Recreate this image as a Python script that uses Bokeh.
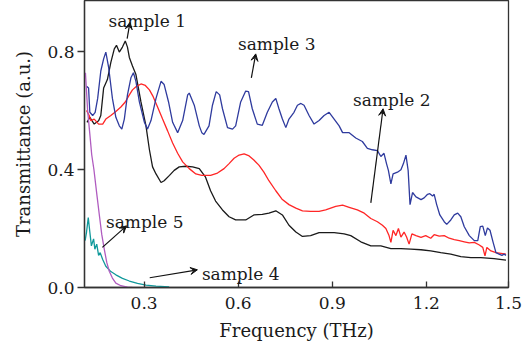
from bokeh.plotting import figure
from bokeh.models import Range1d, FixedTicker, PrintfTickFormatter, Arrow, VeeHead, Label
from bokeh.embed import file_html
from bokeh.resources import INLINE

FONT = "DejaVu Serif"

s1_x = [0.118, 0.127, 0.141, 0.155, 0.162, 0.171, 0.183, 0.194, 0.205, 0.212, 0.221, 0.231, 0.240,
        0.247, 0.253, 0.263, 0.274, 0.290, 0.306, 0.317, 0.327, 0.338, 0.354, 0.364, 0.381, 0.396,
        0.412, 0.433, 0.455, 0.476, 0.496, 0.512, 0.528, 0.550, 0.571, 0.592, 0.624, 0.650, 0.677,
        0.698, 0.720, 0.741, 0.762, 0.784, 0.805, 0.831, 0.858, 0.879, 0.906, 0.938, 0.959, 0.991,
        1.023, 1.055, 1.087, 1.119, 1.151, 1.183, 1.214, 1.246, 1.278, 1.310, 1.342, 1.374, 1.416, 1.454]
s1_y = [0.560, 0.577, 0.554, 0.565, 0.583, 0.676, 0.705, 0.763, 0.809, 0.821, 0.798, 0.815, 0.836,
        0.815, 0.780, 0.751, 0.722, 0.629, 0.548, 0.467, 0.409, 0.385, 0.356, 0.362, 0.380, 0.397,
        0.409, 0.411, 0.409, 0.403, 0.374, 0.328, 0.293, 0.263, 0.240, 0.229, 0.229, 0.246, 0.248,
        0.252, 0.260, 0.246, 0.211, 0.188, 0.173, 0.176, 0.186, 0.186, 0.186, 0.182, 0.176, 0.155,
        0.141, 0.141, 0.132, 0.132, 0.130, 0.128, 0.124, 0.118, 0.113, 0.105, 0.101, 0.101, 0.098, 0.093]

s2_x = [0.1165, 0.125, 0.130, 0.141, 0.155, 0.168, 0.178, 0.194, 0.210, 0.226, 0.240, 0.253, 0.263,
        0.276, 0.290, 0.304, 0.317, 0.329, 0.343, 0.359, 0.375, 0.391, 0.407, 0.423, 0.444, 0.465,
        0.484, 0.512, 0.534, 0.555, 0.571, 0.587, 0.603, 0.619, 0.635, 0.650, 0.666, 0.682, 0.698,
        0.720, 0.741, 0.762, 0.784, 0.805, 0.831, 0.858, 0.879, 0.911, 0.933, 0.954, 0.980, 1.002,
        1.023, 1.044, 1.060, 1.071, 1.081, 1.087, 1.094, 1.103, 1.111, 1.119, 1.129, 1.137, 1.145,
        1.154, 1.167, 1.183, 1.198, 1.214, 1.225, 1.241, 1.257, 1.273, 1.289, 1.305, 1.321, 1.337,
        1.353, 1.369, 1.380, 1.387, 1.393, 1.406, 1.422, 1.438, 1.454]
s2_y = [0.600, 0.583, 0.566, 0.571, 0.554, 0.554, 0.571, 0.583, 0.597, 0.612, 0.629, 0.653, 0.670,
        0.682, 0.690, 0.685, 0.670, 0.647, 0.612, 0.571, 0.531, 0.490, 0.455, 0.426, 0.403, 0.385,
        0.380, 0.380, 0.388, 0.403, 0.420, 0.438, 0.449, 0.453, 0.446, 0.432, 0.415, 0.391, 0.362,
        0.328, 0.298, 0.281, 0.269, 0.260, 0.258, 0.258, 0.263, 0.275, 0.279, 0.272, 0.263, 0.252,
        0.234, 0.223, 0.211, 0.200, 0.176, 0.153, 0.194, 0.176, 0.200, 0.171, 0.188, 0.171, 0.147,
        0.182, 0.176, 0.170, 0.176, 0.167, 0.179, 0.174, 0.176, 0.167, 0.162, 0.159, 0.155, 0.151,
        0.153, 0.144, 0.136, 0.107, 0.136, 0.124, 0.118, 0.116, 0.113]

s3_x = [0.1165, 0.123, 0.127, 0.136, 0.144, 0.152, 0.162, 0.171, 0.178, 0.187, 0.199, 0.210, 0.221,
        0.229, 0.237, 0.247, 0.258, 0.266, 0.274, 0.285, 0.301, 0.311, 0.322, 0.338, 0.354, 0.364,
        0.378, 0.391, 0.407, 0.423, 0.439, 0.444, 0.460, 0.476, 0.484, 0.491, 0.507, 0.518, 0.530,
        0.541, 0.550, 0.566, 0.582, 0.592, 0.608, 0.624, 0.633, 0.645, 0.661, 0.677, 0.693, 0.709,
        0.720, 0.730, 0.741, 0.752, 0.762, 0.778, 0.789, 0.800, 0.810, 0.826, 0.842, 0.858, 0.874,
        0.890, 0.906, 0.922, 0.933, 0.954, 0.975, 0.996, 1.012, 1.028, 1.044, 1.055, 1.065, 1.073,
        1.079, 1.087, 1.094, 1.108, 1.119, 1.127, 1.135, 1.142, 1.148, 1.156, 1.167, 1.183, 1.193,
        1.204, 1.211, 1.220, 1.225, 1.233, 1.243, 1.257, 1.265, 1.278, 1.289, 1.300, 1.310, 1.321,
        1.337, 1.353, 1.364, 1.372, 1.380, 1.388, 1.395, 1.403, 1.413, 1.422, 1.432, 1.441, 1.448, 1.454]
s3_y = [0.682, 0.676, 0.594, 0.583, 0.594, 0.641, 0.734, 0.775, 0.798, 0.746, 0.641, 0.577, 0.548,
        0.537, 0.571, 0.653, 0.711, 0.728, 0.699, 0.629, 0.560, 0.537, 0.566, 0.641, 0.699, 0.688,
        0.629, 0.560, 0.525, 0.566, 0.653, 0.659, 0.618, 0.548, 0.525, 0.519, 0.548, 0.618, 0.664,
        0.653, 0.606, 0.542, 0.537, 0.548, 0.629, 0.666, 0.664, 0.606, 0.554, 0.550, 0.594, 0.629,
        0.641, 0.606, 0.571, 0.542, 0.571, 0.594, 0.618, 0.624, 0.618, 0.583, 0.554, 0.566, 0.583,
        0.594, 0.571, 0.548, 0.525, 0.525, 0.507, 0.495, 0.472, 0.467, 0.464, 0.444, 0.455, 0.420,
        0.397, 0.351, 0.385, 0.391, 0.399, 0.420, 0.449, 0.397, 0.281, 0.322, 0.307, 0.298, 0.304,
        0.316, 0.318, 0.310, 0.316, 0.281, 0.246, 0.223, 0.214, 0.229, 0.246, 0.252, 0.240, 0.206,
        0.176, 0.159, 0.159, 0.206, 0.208, 0.176, 0.202, 0.194, 0.153, 0.118, 0.113, 0.109, 0.113, 0.109]

s4_x = [0.112, 0.1165, 0.122, 0.127, 0.132, 0.139, 0.143, 0.149, 0.155, 0.160, 0.168, 0.178, 0.194,
        0.210, 0.231, 0.253, 0.279, 0.306, 0.338, 0.380]
s4_y = [0.159, 0.188, 0.237, 0.188, 0.141, 0.165, 0.130, 0.147, 0.109, 0.118, 0.095, 0.072, 0.054,
        0.043, 0.031, 0.022, 0.014, 0.008, 0.005, 0.002]

s5_x = [0.113, 0.120, 0.127, 0.133, 0.140, 0.150, 0.158, 0.165, 0.173, 0.181, 0.189, 0.199, 0.210,
        0.226, 0.247, 0.262]
s5_y = [0.728, 0.600, 0.520, 0.450, 0.400, 0.310, 0.240, 0.180, 0.130, 0.085, 0.055, 0.032, 0.015,
        0.006, 0.001, 0.000]

x_ticks = [0.3, 0.6, 0.9, 1.2, 1.462]
y_ticks = [0.0, 0.4, 0.8]

notes = [
    ("sample 1", 0.310, 0.902, 0.246, 0.844, 0.255, 0.899),
    ("sample 3", 0.723, 0.827, 0.642, 0.711, 0.656, 0.792),
    ("sample 2", 1.090, 0.635, 1.023, 0.287, 1.062, 0.606),
    ("sample 5", 0.302, 0.223, 0.167, 0.136, 0.244, 0.209),
    ("sample 4", 0.608, 0.046, 0.318, 0.033, 0.470, 0.060),
]

p = figure(width=528, height=347,
           x_range=Range1d(0.11, 1.462), y_range=Range1d(0.0, 0.973),
           output_backend="svg", toolbar_location=None,
           min_border_left=84, min_border_right=20, min_border_top=0, min_border_bottom=60)
p.background_fill_color = "white"
p.border_fill_color = "white"
p.outline_line_color = "#333333"
p.outline_line_width = 1.3
p.xgrid.visible = False
p.ygrid.visible = False

lw = 1.3
p.line(s1_x, s1_y, line_color="#1a1a1a", line_width=lw)
p.line(s2_x, s2_y, line_color="#ff2626", line_width=lw)
p.line(s3_x, s3_y, line_color="#2f3b9e", line_width=lw)
p.line(s4_x, s4_y, line_color="#10999b", line_width=lw)
p.line(s5_x, s5_y, line_color="#b05cc0", line_width=lw)

for t, tx, ty, ax0, ay0, ax1, ay1 in notes:
    p.add_layout(Arrow(x_start=ax0, y_start=ay0, x_end=ax1, y_end=ay1,
                       line_color="#111111", line_width=1.2,
                       end=VeeHead(size=7, fill_color="#111111", line_color="#111111", line_width=1)))
    p.add_layout(Label(x=tx, y=ty, text=t, text_align="center", text_baseline="alphabetic",
                       text_font=FONT, text_font_size="17px", text_color="#1a1a1a"))

xa = p.xaxis[0]
xa.ticker = FixedTicker(ticks=x_ticks)
xa.formatter = PrintfTickFormatter(format="%.1f")
xa.axis_label = "Frequency (THz)"
xa.major_tick_in = 6
xa.major_tick_out = 0
xa.minor_tick_line_color = None
xa.major_label_standoff = 9
xa.axis_label_standoff = 8

ya = p.yaxis[0]
ya.ticker = FixedTicker(ticks=y_ticks)
ya.formatter = PrintfTickFormatter(format="%.1f")
ya.axis_label = "Transmittance (a.u.)"
ya.major_tick_in = 0
ya.major_tick_out = 7
ya.minor_tick_line_color = None
ya.major_label_standoff = 3
ya.axis_label_standoff = 10

for ax in (xa, ya):
    ax.axis_line_color = "#333333"
    ax.axis_line_width = 1.3
    ax.major_tick_line_color = "#333333"
    ax.major_tick_line_width = 1.3
    ax.major_label_text_font = FONT
    ax.major_label_text_font_size = "17px"
    ax.major_label_text_color = "#1a1a1a"
    ax.axis_label_text_font = FONT
    ax.axis_label_text_font_size = "18px"
    ax.axis_label_text_font_style = "normal"
    ax.axis_label_text_color = "#1a1a1a"

open("out.html", "w").write(file_html(p, INLINE))
